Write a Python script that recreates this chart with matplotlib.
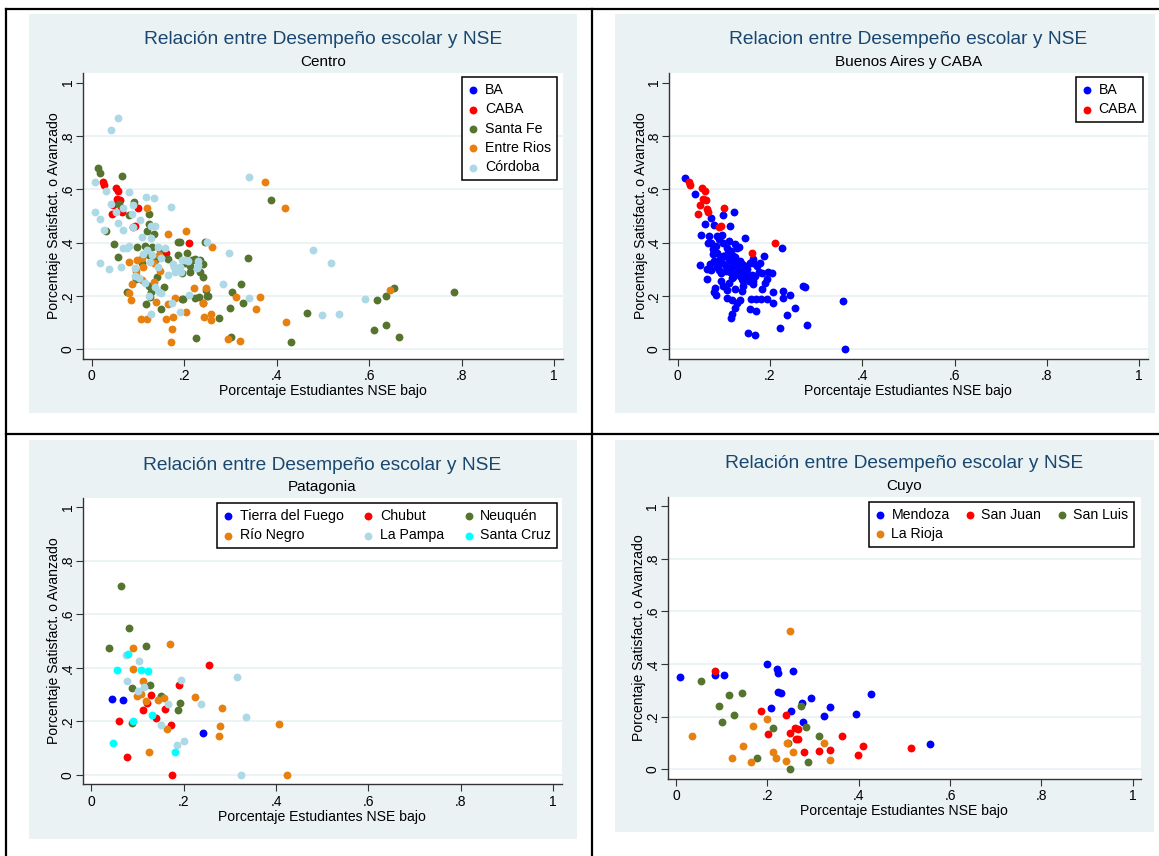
import numpy as np
import matplotlib.pyplot as plt
from matplotlib.patches import Rectangle
from matplotlib.lines import Line2D

plt.rcParams['font.family'] = ['Liberation Sans', 'DejaVu Sans']

W, H = 1159, 856

# --- datos ---------------------------------------------------------------
ticks = [0, 0.2, 0.4, 0.6, 0.8, 1]
tick_labels = ['0', '.2', '.4', '.6', '.8', '1']

caba_x = [0.025, 0.027, 0.052, 0.058, 0.054, 0.061, 0.047, 0.064, 0.065, 0.044, 0.100, 0.093, 0.089, 0.210, 0.161]
caba_y = [0.628, 0.617, 0.604, 0.593, 0.565, 0.558, 0.540, 0.525, 0.515, 0.509, 0.530, 0.463, 0.459, 0.399, 0.360]

ba_x = [0.016, 0.037, 0.122, 0.097, 0.073, 0.060, 0.079, 0.114, 0.051, 0.068, 0.084, 0.096, 0.146, 0.226,
        0.073, 0.083, 0.076, 0.099, 0.106, 0.128, 0.132, 0.076, 0.086, 0.097, 0.115, 0.120, 0.164, 0.187,
        0.047, 0.070, 0.078, 0.096, 0.104, 0.119, 0.128, 0.131, 0.137, 0.146, 0.157, 0.162, 0.178, 0.172,
        0.063, 0.090, 0.093, 0.113, 0.118, 0.124, 0.135, 0.139, 0.148, 0.153, 0.164, 0.167, 0.177, 0.182,
        0.196, 0.205, 0.193, 0.189, 0.094, 0.099, 0.106, 0.080, 0.079, 0.083, 0.142, 0.164, 0.139, 0.158,
        0.169, 0.180, 0.182, 0.193, 0.207, 0.227, 0.227, 0.244, 0.206, 0.107, 0.118, 0.128, 0.125, 0.118,
        0.115, 0.157, 0.169, 0.135, 0.237, 0.255, 0.222, 0.152, 0.167, 0.359, 0.363, 0.280, 0.271, 0.276,
        0.063, 0.072, 0.108, 0.112, 0.118, 0.125, 0.130, 0.140, 0.145, 0.105, 0.090, 0.085, 0.120, 0.150,
        0.160, 0.135, 0.100, 0.125, 0.110, 0.090, 0.065, 0.142, 0.155, 0.110, 0.125]
ba_y = [0.641, 0.584, 0.513, 0.503, 0.491, 0.468, 0.465, 0.463, 0.428, 0.423, 0.425, 0.428, 0.416, 0.381,
        0.398, 0.388, 0.375, 0.400, 0.381, 0.380, 0.385, 0.359, 0.360, 0.348, 0.368, 0.348, 0.340, 0.348,
        0.316, 0.318, 0.331, 0.325, 0.313, 0.325, 0.331, 0.313, 0.298, 0.313, 0.323, 0.325, 0.323, 0.313,
        0.263, 0.298, 0.285, 0.288, 0.268, 0.281, 0.275, 0.263, 0.288, 0.269, 0.256, 0.275, 0.290, 0.285,
        0.288, 0.285, 0.263, 0.250, 0.256, 0.238, 0.223, 0.231, 0.213, 0.204, 0.238, 0.244, 0.219, 0.190,
        0.190, 0.190, 0.225, 0.190, 0.215, 0.219, 0.194, 0.204, 0.173, 0.194, 0.185, 0.175, 0.156, 0.131,
        0.119, 0.150, 0.143, 0.185, 0.128, 0.156, 0.078, 0.060, 0.053, 0.180, 0.000, 0.092, 0.237, 0.235,
        0.302, 0.296, 0.360, 0.335, 0.310, 0.345, 0.300, 0.320, 0.285, 0.295, 0.335, 0.310, 0.270, 0.300,
        0.280, 0.330, 0.350, 0.395, 0.405, 0.415, 0.400, 0.255, 0.255, 0.250, 0.225]

santafe_x = [0.014, 0.019, 0.065, 0.059, 0.092, 0.124, 0.081, 0.123, 0.032, 0.119, 0.135, 0.187, 0.245, 0.048,
             0.058, 0.099, 0.115, 0.130, 0.148, 0.123, 0.108, 0.139, 0.166, 0.187, 0.202, 0.213, 0.223, 0.234,
             0.240, 0.195, 0.096, 0.123, 0.128, 0.142, 0.157, 0.076, 0.126, 0.117, 0.149, 0.196, 0.226, 0.233,
             0.224, 0.252, 0.191, 0.207, 0.218, 0.213, 0.234, 0.240, 0.322, 0.303, 0.248, 0.250, 0.197, 0.241,
             0.328, 0.299, 0.275, 0.301, 0.337, 0.388, 0.466, 0.431, 0.610, 0.636, 0.665, 0.616, 0.636, 0.653,
             0.783]
santafe_y = [0.681, 0.662, 0.649, 0.546, 0.551, 0.509, 0.503, 0.471, 0.444, 0.444, 0.434, 0.403, 0.403, 0.393,
             0.347, 0.384, 0.387, 0.382, 0.372, 0.353, 0.322, 0.337, 0.337, 0.353, 0.322, 0.312, 0.340, 0.334,
             0.319, 0.287, 0.262, 0.237, 0.216, 0.272, 0.235, 0.216, 0.197, 0.170, 0.152, 0.190, 0.044, 0.197,
             0.191, 0.200, 0.401, 0.360, 0.335, 0.288, 0.291, 0.270, 0.243, 0.216, 0.222, 0.200, 0.189, 0.172,
             0.172, 0.154, 0.119, 0.047, 0.342, 0.558, 0.137, 0.026, 0.071, 0.091, 0.045, 0.184, 0.200, 0.231,
             0.214]

entrerios_x = [0.119, 0.164, 0.205, 0.081, 0.097, 0.108, 0.112, 0.135, 0.146, 0.096, 0.096, 0.108, 0.135, 0.148,
               0.088, 0.081, 0.086, 0.139, 0.106, 0.119, 0.160, 0.175, 0.166, 0.181, 0.204, 0.173, 0.172, 0.222,
               0.247, 0.240, 0.243, 0.258, 0.259, 0.260, 0.312, 0.363, 0.355, 0.295, 0.321, 0.375, 0.417, 0.420,
               0.645]
entrerios_y = [0.531, 0.432, 0.443, 0.326, 0.334, 0.341, 0.309, 0.322, 0.353, 0.294, 0.278, 0.259, 0.253, 0.293,
               0.244, 0.212, 0.185, 0.176, 0.112, 0.112, 0.114, 0.122, 0.170, 0.191, 0.140, 0.077, 0.026, 0.231,
               0.231, 0.175, 0.122, 0.134, 0.109, 0.385, 0.195, 0.196, 0.150, 0.037, 0.031, 0.626, 0.531, 0.101,
               0.222]

cordoba_x = [0.057, 0.042, 0.008, 0.031, 0.081, 0.117, 0.135, 0.172, 0.042, 0.068, 0.052, 0.007, 0.018, 0.090,
             0.088, 0.056, 0.105, 0.068, 0.027, 0.090, 0.108, 0.128, 0.137, 0.128, 0.067, 0.081, 0.076, 0.018,
             0.037, 0.063, 0.110, 0.119, 0.144, 0.158, 0.130, 0.094, 0.126, 0.144, 0.151, 0.164, 0.175, 0.191,
             0.180, 0.195, 0.208, 0.227, 0.229, 0.177, 0.094, 0.103, 0.115, 0.137, 0.146, 0.150, 0.125, 0.128,
             0.174, 0.210, 0.190, 0.202, 0.231, 0.194, 0.249, 0.296, 0.285, 0.340, 0.340, 0.479, 0.517, 0.590,
             0.499, 0.535]
cordoba_y = [0.867, 0.821, 0.629, 0.594, 0.591, 0.571, 0.569, 0.534, 0.546, 0.528, 0.515, 0.515, 0.490, 0.540,
             0.506, 0.474, 0.484, 0.449, 0.449, 0.457, 0.422, 0.418, 0.462, 0.462, 0.378, 0.387, 0.378, 0.322,
             0.302, 0.307, 0.359, 0.372, 0.384, 0.378, 0.353, 0.303, 0.328, 0.309, 0.341, 0.278, 0.319, 0.309,
             0.291, 0.334, 0.332, 0.303, 0.332, 0.307, 0.274, 0.269, 0.247, 0.235, 0.216, 0.210, 0.200, 0.132,
             0.175, 0.202, 0.141, 0.335, 0.316, 0.291, 0.401, 0.362, 0.243, 0.194, 0.647, 0.372, 0.322, 0.189,
             0.129, 0.134]

tdf_x = [0.045, 0.069, 0.242]
tdf_y = [0.284, 0.280, 0.158]
chubut_x = [0.255, 0.190, 0.128, 0.121, 0.160, 0.111, 0.139, 0.060, 0.173, 0.077, 0.174]
chubut_y = [0.411, 0.336, 0.298, 0.270, 0.248, 0.241, 0.213, 0.202, 0.187, 0.069, 0.000]
neuquen_x = [0.063, 0.082, 0.037, 0.118, 0.087, 0.126, 0.151, 0.192, 0.187, 0.088]
neuquen_y = [0.707, 0.550, 0.473, 0.481, 0.326, 0.334, 0.293, 0.269, 0.242, 0.194]
rionegro_x = [0.089, 0.171, 0.089, 0.112, 0.098, 0.107, 0.119, 0.144, 0.158, 0.225, 0.282, 0.279, 0.276, 0.163,
              0.124, 0.407, 0.424]
rionegro_y = [0.473, 0.487, 0.395, 0.350, 0.296, 0.301, 0.278, 0.280, 0.288, 0.291, 0.250, 0.182, 0.144, 0.173,
              0.086, 0.189, 0.000]
lapampa_x = [0.074, 0.102, 0.078, 0.101, 0.113, 0.194, 0.165, 0.151, 0.185, 0.201, 0.238, 0.315, 0.334, 0.323]
lapampa_y = [0.448, 0.424, 0.351, 0.315, 0.327, 0.355, 0.265, 0.185, 0.111, 0.126, 0.266, 0.366, 0.216, 0.000]
santacruz_x = [0.079, 0.056, 0.107, 0.123, 0.090, 0.131, 0.047, 0.182]
santacruz_y = [0.452, 0.391, 0.392, 0.388, 0.202, 0.223, 0.118, 0.086]

mendoza_x = [0.008, 0.085, 0.104, 0.199, 0.222, 0.223, 0.255, 0.223, 0.230, 0.208, 0.275, 0.296, 0.251, 0.279,
             0.323, 0.337, 0.395, 0.427, 0.557]
mendoza_y = [0.351, 0.358, 0.358, 0.401, 0.382, 0.365, 0.372, 0.295, 0.289, 0.232, 0.253, 0.270, 0.223, 0.178,
             0.203, 0.238, 0.209, 0.286, 0.095]
sanjuan_x = [0.085, 0.186, 0.240, 0.201, 0.250, 0.260, 0.266, 0.263, 0.268, 0.281, 0.312, 0.337, 0.364, 0.399,
             0.409, 0.515]
sanjuan_y = [0.372, 0.220, 0.205, 0.134, 0.138, 0.157, 0.153, 0.114, 0.114, 0.065, 0.071, 0.073, 0.128, 0.053,
             0.087, 0.082]
sanluis_x = [0.055, 0.093, 0.117, 0.144, 0.126, 0.100, 0.213, 0.274, 0.285, 0.313, 0.246, 0.177, 0.288, 0.250]
sanluis_y = [0.334, 0.242, 0.281, 0.291, 0.206, 0.178, 0.157, 0.241, 0.159, 0.128, 0.101, 0.042, 0.027, 0.000]
larioja_x = [0.034, 0.250, 0.169, 0.200, 0.147, 0.123, 0.164, 0.213, 0.218, 0.241, 0.243, 0.256, 0.325, 0.337]
larioja_y = [0.125, 0.527, 0.165, 0.190, 0.087, 0.041, 0.028, 0.067, 0.043, 0.030, 0.101, 0.065, 0.101, 0.037]

# --- estilo ---------------------------------------------------------------
BLUE, RED, GREEN = '#0000ff', '#ff0000', '#55752f'
ORANGE, LTBLUE, CYAN = '#e8800f', '#add8e6', '#00ffff'
BG = '#eaf2f3'
NAVY = '#1a476f'


def frac(x0, y0, x1, y1):
    # pixel box (top-left origin) -> figure fraction rect
    return [x0 / W, 1 - y1 / H, (x1 - x0) / W, (y1 - y0) / H]


fig = plt.figure(figsize=(W / 100, H / 100), dpi=100)

# fondos de cada grafico (debajo de los ejes)
for (x0, y0, x1, y1) in [(29, 14, 577, 413), (615, 14, 1155, 413),
                         (29, 440, 577, 839), (615, 440, 1154, 832)]:
    fig.patches.append(Rectangle((x0 / W, 1 - y1 / H), (x1 - x0) / W, (y1 - y0) / H,
                                 transform=fig.transFigure, facecolor=BG, edgecolor='none', zorder=-5))

# lineas de la tabla
for xs, ys in [((6, W), (9, 9)), ((6, 6), (9, H)), ((592, 592), (9, H)), ((6, W), (434, 434))]:
    fig.add_artist(Line2D([x / W for x in xs], [1 - y / H for y in ys], color='black',
                          lw=1.6, transform=fig.transFigure))


def panel(rect, title, subtitle, title_y, series, leg_anchor, ncol=1, order=None, colsp=1.4):
    x0, y0, x1, y1 = rect
    ax = fig.add_axes(frac(*rect))
    ax.set_facecolor('white')
    for xs, ys, c, lab in series:
        ax.scatter(xs, ys, s=32, color=c, linewidths=0, label=lab, zorder=3)
    ax.set_xlim(-0.0185, 1.0185)
    ax.set_ylim(-0.035, 1.035)
    ax.set_xticks(ticks)
    ax.set_xticklabels(tick_labels, fontsize=10)
    ax.set_yticks(ticks)
    ax.set_yticklabels(tick_labels, fontsize=10, rotation=90, va='center')
    ax.tick_params(length=5, width=0.8, color='#333333')
    ax.tick_params(axis='x', pad=2.5)
    ax.tick_params(axis='y', pad=1.0)
    for s in ['top', 'right']:
        ax.spines[s].set_visible(False)
    for s in ['left', 'bottom']:
        ax.spines[s].set_color('#333333')
        ax.spines[s].set_linewidth(1.0)
    ax.yaxis.grid(True, color=BG, lw=1.3)
    ax.get_ygridlines()[-1].set_visible(False)
    ax.set_axisbelow(True)
    ax.set_xlabel('Porcentaje Estudiantes NSE bajo', fontsize=10.1, labelpad=0.5)
    ax.set_ylabel('Porcentaje Satisfact. o Avanzado', fontsize=10.1, labelpad=-0.5)

    cx = (x0 + x1) / 2 / W
    fig.text(cx, 1 - title_y / H, title, color=NAVY, fontsize=13.8, ha='center', va='center')
    fig.text(cx, 1 - (title_y + 22) / H, subtitle, color='black', fontsize=11, ha='center', va='center')

    handles, labels = ax.get_legend_handles_labels()
    if order is not None:
        handles = [handles[i] for i in order]
        labels = [labels[i] for i in order]
    leg = ax.legend(handles, labels, loc='upper right', bbox_to_anchor=leg_anchor, borderaxespad=0,
                    ncol=ncol, fontsize=10.2, frameon=True, fancybox=False, framealpha=1,
                    handlelength=0.7, handletextpad=0.46, labelspacing=0.38, borderpad=0.42,
                    columnspacing=colsp)
    leg.get_frame().set_edgecolor('black')
    leg.get_frame().set_linewidth(1.1)
    return ax


panel((83.1, 73.3, 562.7, 358.6), 'Relación entre Desempeño escolar y NSE', 'Centro', 40,
      [([], [], BLUE, 'BA'), (caba_x, caba_y, RED, 'CABA'), (santafe_x, santafe_y, GREEN, 'Santa Fe'),
       (entrerios_x, entrerios_y, ORANGE, 'Entre Rios'), (cordoba_x, cordoba_y, LTBLUE, 'Córdoba')],
      (0.988, 0.987))

panel((669.3, 73.3, 1147.5, 358.6), 'Relacion entre Desempeño escolar y NSE', 'Buenos Aires y CABA', 40,
      [(ba_x, ba_y, BLUE, 'BA'), (caba_x, caba_y, RED, 'CABA')],
      (0.990, 0.987))

panel((82.9, 497.6, 561.5, 784.4), 'Relación entre Desempeño escolar y NSE', 'Patagonia', 465,
      [(tdf_x, tdf_y, BLUE, 'Tierra del Fuego'), (chubut_x, chubut_y, RED, 'Chubut'),
       (neuquen_x, neuquen_y, GREEN, 'Neuquén'), (rionegro_x, rionegro_y, ORANGE, 'Río Negro'),
       (lapampa_x, lapampa_y, LTBLUE, 'La Pampa'), (santacruz_x, santacruz_y, CYAN, 'Santa Cruz')],
      (0.991, 0.981), ncol=3, order=[0, 3, 1, 4, 2, 5])

panel((667.6, 496.8, 1141.2, 778.5), 'Relación entre Desempeño escolar y NSE', 'Cuyo', 464,
      [(mendoza_x, mendoza_y, BLUE, 'Mendoza'), (sanjuan_x, sanjuan_y, RED, 'San Juan'),
       (sanluis_x, sanluis_y, GREEN, 'San Luis'), (larioja_x, larioja_y, ORANGE, 'La Rioja')],
      (0.985, 0.983), ncol=3, order=[0, 3, 1, 2], colsp=1.08)

fig.savefig('out.png', dpi=100, facecolor='white')
